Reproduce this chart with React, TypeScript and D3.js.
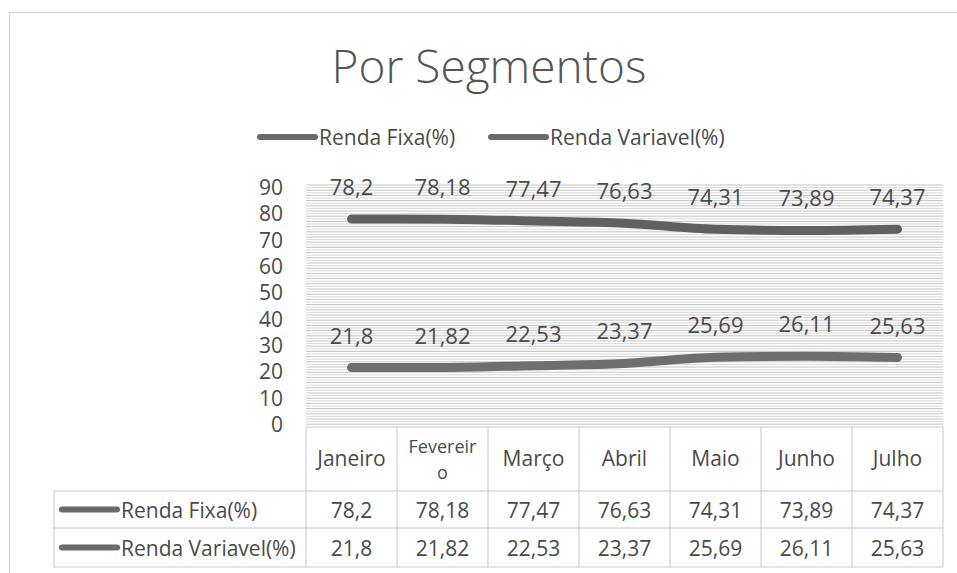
import React from 'react';
import * as d3 from 'd3';

const months = ['Janeiro', 'Fevereiro', 'Março', 'Abril', 'Maio', 'Junho', 'Julho'];
const monthLines = [['Janeiro'], ['Fevereir', 'o'], ['Março'], ['Abril'], ['Maio'], ['Junho'], ['Julho']];
const rendaFixa = [78.2, 78.18, 77.47, 76.63, 74.31, 73.89, 74.37];
const rendaVariavel = [21.8, 21.82, 22.53, 23.37, 25.69, 26.11, 25.63];
const seriesNames = ['Renda Fixa(%)', 'Renda Variavel(%)'];
const yTicks = [0, 10, 20, 30, 40, 50, 60, 70, 80, 90];

const W = 957;
const H = 573;
const FONT = '"Open Sans", "Noto Sans", sans-serif';
const TEXT = '#4a4a4a';
const LINE = '#6a6a6a';
const FS = 21;

const fmt = (v: number) => String(v).replace('.', ',');

const App = () => {
  const plot = { left: 306, right: 943, top: 185, bottom: 425 };

  const x = d3.scaleBand<string>().domain(months).range([plot.left, plot.right]);
  const y = d3.scaleLinear().domain([0, 90]).range([plot.bottom, 188]);

  const line = d3.line<number>()
    .x((_, i) => (x(months[i]) as number) + x.bandwidth() / 2)
    .y(d => y(d))
    .curve(d3.curveMonotoneX);

  const series = [rendaFixa, rendaVariavel];

  // hatch texture of the scanned plot area
  const hatch = d3.range(plot.top, plot.bottom, 2.6);

  // table rows
  const tableLeft = 54;
  const headTop = 427;
  const headBottom = 491;
  const rowBounds = [491, 528, 567];

  return (
    <svg width={W} height={H} style={{ position: 'absolute', left: 0, top: 0, background: '#fff' }} fontFamily={FONT}>
      <rect x={9.5} y={12.5} width={960} height={570} fill="#fff" stroke="#d6d6d6" />

      <text x={489} y={83} textAnchor="middle" fontSize={46} fontWeight={300} fill="#555">Por Segmentos</text>

      {/* legend */}
      {seriesNames.map((name, i) => {
        const lx = i === 0 ? 260 : 491;
        return (
          <g key={name}>
            <line x1={lx} x2={lx + 55} y1={137} y2={137} stroke={LINE} strokeWidth={6} strokeLinecap="round" />
            <text x={lx + 59} y={145} fontSize={FS} fill={TEXT}>{name}</text>
          </g>
        );
      })}

      {/* plot background hatch */}
      {hatch.map((h, i) => (
        <line key={i} x1={plot.left} x2={plot.right} y1={h} y2={h} stroke={i % 2 ? '#cfcfcf' : '#b5b5b5'} strokeWidth={0.8} />
      ))}

      {/* y axis */}
      {yTicks.map(t => (
        <text key={t} x={283} y={y(t) + 7} textAnchor="end" fontSize={FS} fill={TEXT}>{t}</text>
      ))}

      {/* lines */}
      {series.map((s, k) => (
        <path key={k} d={line(s) || ''} fill="none" stroke={k === 0 ? '#606060' : '#6e6e6e'} strokeWidth={9} strokeLinecap="round" />
      ))}

      {/* data labels */}
      {series.map((s, k) => s.map((v, i) => (
        <text key={`${k}-${i}`} x={(x(months[i]) as number) + x.bandwidth() / 2} y={y(v) - 24}
          textAnchor="middle" fontSize={22} fill={TEXT}>{fmt(v)}</text>
      )))}

      {/* data table */}
      <g stroke="#c8c8c8" strokeWidth={1} fill="none">
        <line x1={plot.left} x2={plot.right} y1={headTop} y2={headTop} />
        {rowBounds.map(r => <line key={r} x1={tableLeft} x2={plot.right} y1={r} y2={r} />)}
        <line x1={tableLeft} x2={tableLeft} y1={headBottom} y2={rowBounds[2]} />
        {months.map(m => (
          <line key={m} x1={x(m) as number} x2={x(m) as number} y1={headTop} y2={rowBounds[2]} />
        ))}
        <line x1={plot.right} x2={plot.right} y1={headTop} y2={rowBounds[2]} />
      </g>

      {monthLines.map((parts, i) => {
        const cx = (x(months[i]) as number) + x.bandwidth() / 2;
        const cy = (headTop + headBottom) / 2;
        if (parts.length === 1) {
          return <text key={i} x={cx} y={cy + 7} textAnchor="middle" fontSize={FS} fill={TEXT}>{parts[0]}</text>;
        }
        return (
          <g key={i}>
            {parts.map((p, j) => (
              <text key={j} x={cx} y={cy + 7 + (j - 0.5) * 26} textAnchor="middle" fontSize={18} fill={TEXT}>{p}</text>
            ))}
          </g>
        );
      })}

      {series.map((s, k) => {
        const cy = (rowBounds[k] + rowBounds[k + 1]) / 2;
        return (
          <g key={k}>
            <line x1={62} x2={117} y1={cy} y2={cy} stroke={LINE} strokeWidth={6} strokeLinecap="round" />
            <text x={121} y={cy + 8} fontSize={FS} fill={TEXT}>{seriesNames[k]}</text>
            {s.map((v, i) => (
              <text key={i} x={(x(months[i]) as number) + x.bandwidth() / 2} y={cy + 8}
                textAnchor="middle" fontSize={FS} fill={TEXT}>{fmt(v)}</text>
            ))}
          </g>
        );
      })}
    </svg>
  );
};

export default App;
